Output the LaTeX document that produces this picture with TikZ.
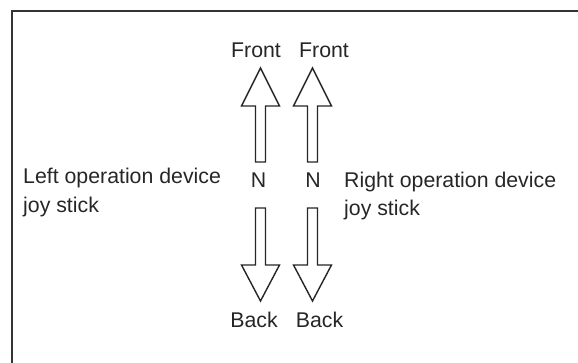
\documentclass[tikz,border=0pt]{standalone}
\usepackage{fontspec}
\setmainfont{Liberation Sans}
\usepackage{tikz}
\usetikzlibrary{calc}

\tikzset{
  lbl/.style={font=\fontsize{21.3}{25}\selectfont, text=black!85, inner sep=0pt, anchor=base},
  lbltxt/.style={lbl, anchor=base west},
  hollow/.style={draw=black!85, fill=white, line width=1.4pt, line join=miter},
}

\begin{document}
\begin{tikzpicture}[x=1pt, y=-1pt]
            \useasboundingbox (0,0) rectangle (578,363);
            % frame
            \path[draw, black!80, line width=2.6pt](12,363)--(12,11)--(578,11);

            % up arrows
            \foreach \cx in {260.5,312.5}{
              \path[hollow](\cx,68)--(\cx+19,106)--(\cx+5,106)--(\cx+5,162)
                --(\cx-5,162)--(\cx-5,106)--(\cx-19,106)--cycle;
            }
            % down arrows
            \foreach \cx in {260.5,312.5}{
              \path[hollow](\cx,301)--(\cx+19,265)--(\cx+5,265)--(\cx+5,208)
                --(\cx-5,208)--(\cx-5,265)--(\cx-19,265)--cycle;
            }

            % labels
            \node[lbl](frontL)at(256,58){Front};
            \node[lbl](frontR)at(324,58){Front};
            \node[lbl](nL)at(258.5,188){N};
            \node[lbl](nR)at(313,188){N};
            \node[lbl](backL)at(254,327){Back};
            \node[lbl](backR)at(319.5,327){Back};

            % left device
            \node[lbltxt](leftdev)at(23,184){Left operation device};
            \node[lbltxt](leftjoy)at(23,213){joy stick};
            % right device
            \node[lbltxt](rightdev)at(344,188){Right operation device};
            \node[lbltxt](rightjoy)at(344,216){joy stick};
\end{tikzpicture}
\end{document}
